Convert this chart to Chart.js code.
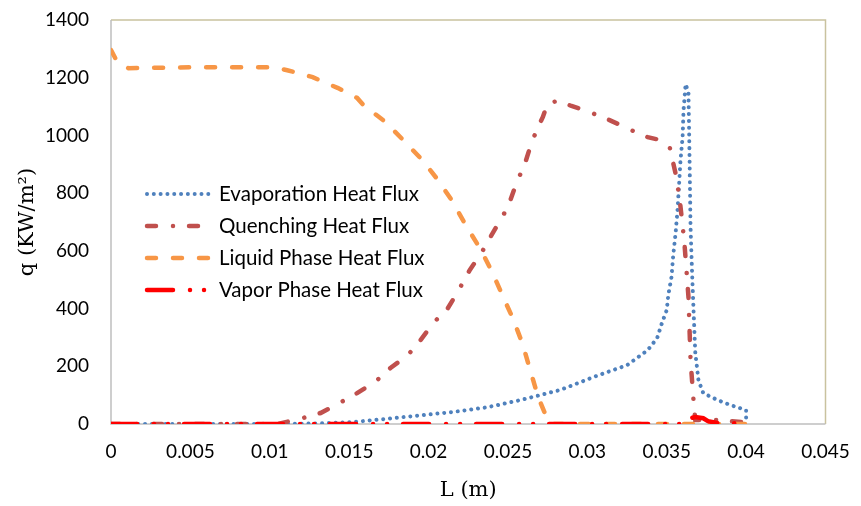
<!DOCTYPE html>
<html>
<head>
<meta charset="utf-8">
<script src="https://cdn.jsdelivr.net/npm/chart.js@4/dist/chart.umd.min.js"></script>
<style>
  html, body { margin: 0; padding: 0; background: #ffffff; }
  #wrap { width: 861px; height: 506px; }
</style>
</head>
<body>
<div id="wrap"><canvas id="chart" width="861" height="506"></canvas></div>
<script>
// Axis ticks
const xTickValues = [0, 0.005, 0.01, 0.015, 0.02, 0.025, 0.03, 0.035, 0.04, 0.045];
const xTickLabels = ['0', '0.005', '0.01', '0.015', '0.02', '0.025', '0.03', '0.035', '0.04', '0.045'];
const yTickValues = [0, 200, 400, 600, 800, 1000, 1200, 1400];

// Evaporation heat flux: position L (m) and q (kW/m²)
const evapL = [0, 0.011, 0.0132, 0.0153, 0.0174, 0.0195, 0.0216, 0.0237, 0.0258, 0.0283,
               0.0304, 0.0325, 0.0338, 0.0344, 0.0347, 0.035, 0.0351, 0.0353, 0.0354, 0.03556,
               0.03568, 0.03587, 0.036, 0.03606, 0.03619, 0.03637, 0.03644, 0.0365, 0.0366, 0.0367,
               0.0368, 0.037, 0.0373, 0.0382, 0.039, 0.04, 0.04];
const evapQ = [0, 0, 2, 7, 18, 30, 42, 58, 83, 118,
               163, 204, 256, 298, 350, 395, 447, 509, 579, 662,
               741, 915, 994, 1088, 1178, 1147, 915, 683, 520, 380,
               246, 152, 107, 83, 66, 48, 5];

// Quenching heat flux
const quenchL = [0, 0.0105, 0.0121, 0.0132, 0.0144, 0.0155, 0.0167, 0.0176, 0.0187, 0.0195,
                 0.0203, 0.0212, 0.0219, 0.0226, 0.0233, 0.0239, 0.025, 0.0256, 0.026, 0.0265,
                 0.0269, 0.0272, 0.0275, 0.0282, 0.029, 0.0298, 0.0306, 0.0314, 0.0322, 0.0329,
                 0.0338, 0.0346, 0.0352, 0.03555, 0.0358, 0.0361, 0.03637, 0.0365, 0.0367, 0.0368,
                 0.0382, 0.039, 0.04];
const quenchQ = [0, 0, 21, 38, 73, 107, 149, 194, 239, 291,
                 350, 400, 464, 534, 590, 648, 752, 845, 890, 977,
                 1029, 1064, 1112, 1120, 1102, 1088, 1071, 1053, 1033, 1015,
                 994, 984, 956, 870, 786, 638, 440, 222, 73, 14,
                 14, 10, 5];

// Liquid phase heat flux
const liquidL = [0, 0.0004, 0.0011, 0.005, 0.0102, 0.0111, 0.0118, 0.0127, 0.0134, 0.0143,
                 0.0155, 0.0159, 0.0173, 0.0184, 0.0196, 0.0206, 0.0215, 0.0223, 0.0233, 0.024,
                 0.0247, 0.0253, 0.0259, 0.0264, 0.0269, 0.0275, 0.0277, 0.04];
const liquidQ = [1296, 1254, 1233, 1236, 1236, 1226, 1216, 1202, 1185, 1164,
                 1130, 1105, 1046, 984, 915, 845, 772, 693, 603, 527,
                 440, 367, 281, 187, 94, 14, 0, 0];

// Vapor phase heat flux
const vaporL = [0, 0.0362, 0.0365, 0.0368, 0.0373, 0.0376, 0.0382, 0.04];
const vaporQ = [0, 0, 20, 24, 20, 10, 3, 3];

const pairs = (xs, ys) => xs.map((x, i) => ({ x: x, y: ys[i] }));

// Inline legend drawn inside the plot area
const insideLegend = {
  id: 'insideLegend',
  afterDatasetsDraw(chart, args, opts) {
    const ctx = chart.ctx;
    const area = chart.chartArea;
    const x0 = area.left + opts.offsetX;
    let y = area.top + opts.offsetY;
    ctx.save();
    chart.data.datasets.forEach((ds) => {
      ctx.beginPath();
      ctx.strokeStyle = ds.borderColor;
      ctx.lineWidth = ds.borderWidth;
      ctx.lineCap = ds.borderCapStyle || 'butt';
      ctx.setLineDash(ds.borderDash || []);
      ctx.lineDashOffset = 0;
      ctx.moveTo(x0, y);
      ctx.lineTo(x0 + opts.sampleWidth, y);
      ctx.stroke();
      ctx.setLineDash([]);
      ctx.fillStyle = '#000000';
      ctx.font = opts.font;
      ctx.textBaseline = 'middle';
      ctx.textAlign = 'left';
      ctx.fillText(ds.label, x0 + opts.sampleWidth + opts.gap, y);
      y += opts.rowHeight;
    });
    ctx.restore();
  }
};

// Plot frame: tan outline with grey axis lines on the left and bottom
const plotFrame = {
  id: 'plotFrame',
  beforeDatasetsDraw(chart) {
    const ctx = chart.ctx;
    const a = chart.chartArea;
    ctx.save();
    ctx.lineWidth = 1.5;
    ctx.strokeStyle = '#C9C29F';
    ctx.beginPath();
    ctx.moveTo(a.left, a.top);
    ctx.lineTo(a.right, a.top);
    ctx.lineTo(a.right, a.bottom);
    ctx.stroke();
    ctx.strokeStyle = '#BFBFBF';
    ctx.beginPath();
    ctx.moveTo(a.left, a.top);
    ctx.lineTo(a.left, a.bottom);
    ctx.lineTo(a.right, a.bottom);
    ctx.stroke();
    ctx.restore();
  }
};

new Chart(document.getElementById('chart'), {
  type: 'line',
  data: {
    datasets: [
      {
        label: 'Evaporation Heat Flux',
        data: pairs(evapL, evapQ),
        borderColor: '#4F81BD',
        borderWidth: 4,
        borderDash: [0.01, 6.8],
        borderCapStyle: 'round',
        order: 3
      },
      {
        label: 'Quenching Heat Flux',
        data: pairs(quenchL, quenchQ),
        borderColor: '#C0504D',
        borderWidth: 4.5,
        borderDash: [9, 17, 0.01, 16],
        borderCapStyle: 'round',
        order: 2
      },
      {
        label: 'Liquid Phase Heat Flux',
        data: pairs(liquidL, liquidQ),
        borderColor: '#F79646',
        borderWidth: 4.5,
        borderDash: [9, 17],
        borderCapStyle: 'round',
        order: 1
      },
      {
        label: 'Vapor Phase Heat Flux',
        data: pairs(vaporL, vaporQ),
        borderColor: '#FF0000',
        borderWidth: 4.5,
        borderDash: [26, 17, 0.01, 14, 0.01, 16],
        borderCapStyle: 'round',
        order: 0
      }
    ]
  },
  options: {
    responsive: false,
    animation: false,
    layout: { padding: { left: 0, right: 35.5, top: 20, bottom: 0 } },
    elements: {
      point: { radius: 0, hoverRadius: 0 },
      line: { tension: 0, fill: false }
    },
    plugins: {
      legend: { display: false },
      tooltip: { enabled: false },
      insideLegend: {
        offsetX: 36,
        offsetY: 174,
        rowHeight: 32,
        sampleWidth: 64,
        gap: 8,
        font: '20.5px Lato'
      }
    },
    scales: {
      x: {
        type: 'linear',
        min: 0,
        max: 0.045,
        afterBuildTicks: (s) => { s.ticks = xTickValues.map(v => ({ value: v })); },
        afterFit: (s) => { s.height = 82; s.paddingLeft = 0; s.paddingRight = 0; },
        grid: { display: false, drawTicks: false },
        border: { display: false },
        ticks: {
          padding: 16,
          color: '#000000',
          font: { family: 'Lato', size: 19 },
          maxRotation: 0,
          autoSkip: false,
          callback: (v) => xTickLabels[xTickValues.indexOf(v)] ?? ''
        },
        title: {
          display: true,
          text: 'L (m)',
          color: '#000000',
          font: { family: 'DejaVu Serif', size: 21 },
          padding: { top: 0, bottom: 3 }
        }
      },
      y: {
        min: 0,
        max: 1400,
        afterBuildTicks: (s) => { s.ticks = yTickValues.map(v => ({ value: v })); },
        afterFit: (s) => { s.width = 111; s.paddingTop = 0; s.paddingBottom = 0; },
        grid: { display: false, drawTicks: false },
        border: { display: false },
        ticks: {
          padding: 22,
          color: '#000000',
          font: { family: 'Lato', size: 19 },
          callback: (v) => String(v)
        },
        title: {
          display: true,
          text: 'q (KW/m²)',
          color: '#000000',
          font: { family: 'DejaVu Serif', size: 21 },
          padding: { top: 15, bottom: 0 }
        }
      }
    }
  },
  plugins: [plotFrame, insideLegend]
});
</script>
</body>
</html>
